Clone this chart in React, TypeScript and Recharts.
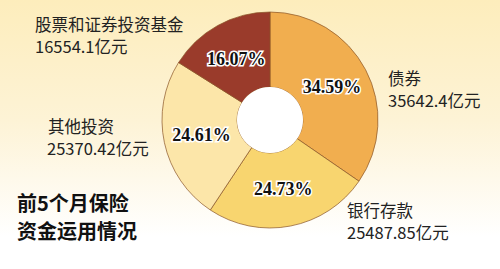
import { PieChart, Pie, Cell } from 'recharts'

const categories = ['债券', '银行存款', '其他投资', '股票和证券投资基金']
const amounts = ['35642.4', '25487.85', '25370.42', '16554.1']
const shares = [34.59, 24.73, 24.61, 16.07]
const colors = ['#f1ae4f', '#f8d56f', '#fce6a9', '#9a3b2b']

const data = categories.map((name, i) => ({ name, value: shares[i], amount: amounts[i] }))
const hole = [{ name: 'hole', value: 1 }]

const RAD = Math.PI / 180

function renderPercent(props: any) {
  const { cx, cy, midAngle, value } = props
  const r = 70
  const x = cx + r * Math.cos(-midAngle * RAD)
  const y = cy + r * Math.sin(-midAngle * RAD)
  return (
    <text
      x={x}
      y={y}
      textAnchor="middle"
      dominantBaseline="central"
      fontFamily="'Liberation Serif', serif"
      fontWeight="bold"
      fontSize={18}
      fill="#111"
      stroke="#fff"
      strokeWidth={3}
      paintOrder="stroke"
    >
      {value.toFixed(2)}%
    </text>
  )
}

const textStyle = { fontFamily: "'Noto Sans CJK SC', sans-serif", fontSize: 16.5, fill: '#222' }
const titleStyle = { fontFamily: "'Noto Sans CJK SC', sans-serif", fontWeight: 'bold', fontSize: 20, fill: '#111' }

export default function App() {
  return (
    <div
      style={{
        position: 'absolute',
        left: 0,
        top: 0,
        width: 500,
        height: 269,
        background: 'linear-gradient(to bottom, #fdedbc 0%, #fdf3d6 45%, #ffffff 88%)',
      }}
    >
      <PieChart width={500} height={269} margin={{ top: 0, right: 0, bottom: 0, left: 0 }}>
        <Pie
          data={data}
          dataKey="value"
          cx={270}
          cy={120}
          innerRadius={33}
          outerRadius={108}
          startAngle={90}
          endAngle={-270}
          stroke="#8a5526"
          strokeWidth={0.7}
          label={renderPercent}
          labelLine={false}
          isAnimationActive={false}
        >
          {data.map((d, i) => (
            <Cell key={d.name} fill={colors[i]} />
          ))}
        </Pie>
        <Pie
          data={hole}
          dataKey="value"
          cx={270}
          cy={120}
          innerRadius={0}
          outerRadius={33}
          fill="#ffffff"
          stroke="none"
          isAnimationActive={false}
        />
        <text x={35} y={31} {...textStyle}>{categories[3]}</text>
        <text x={35} y={53} {...textStyle}>{amounts[3]}亿元</text>
        <text x={388} y={85} {...textStyle}>{categories[0]}</text>
        <text x={388} y={107} {...textStyle}>{amounts[0]}亿元</text>
        <text x={48} y={133} {...textStyle}>{categories[2]}</text>
        <text x={47} y={155} {...textStyle}>{amounts[2]}亿元</text>
        <text x={347} y={217} {...textStyle}>{categories[1]}</text>
        <text x={347} y={239} {...textStyle}>{amounts[1]}亿元</text>
        <text x={17} y={211} {...titleStyle}>前5个月保险</text>
        <text x={17} y={239} {...titleStyle}>资金运用情况</text>
      </PieChart>
    </div>
  )
}
